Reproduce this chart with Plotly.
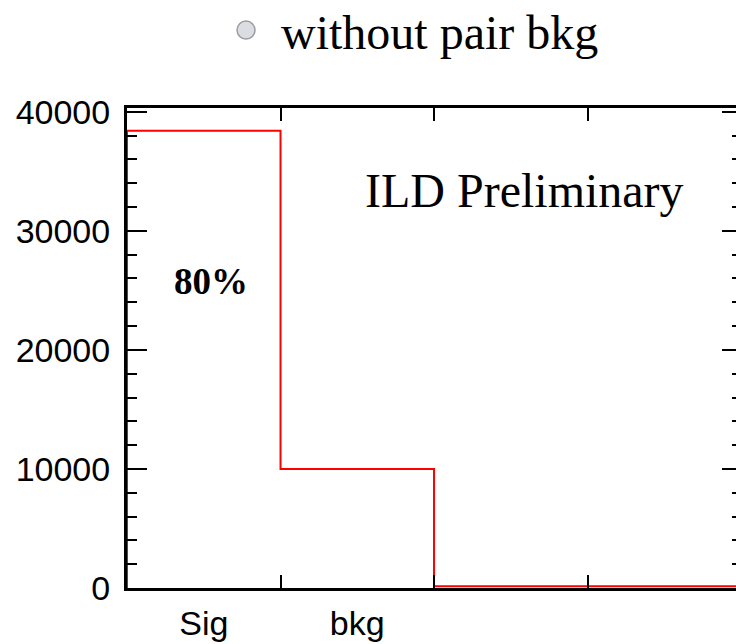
import plotly.graph_objects as go

# Data
categories = ["Sig", "bkg"]
bin_edges = [0, 1, 2, 3, 4]
bin_values = [38400, 10000, 150, 150]
y_tick_vals = [0, 10000, 20000, 30000, 40000]
y_tick_text = ["0", "10000", "20000", "30000", "40000"]

title_text = "without pair bkg"
label_text = "ILD Preliminary"
frac_text = "<b>80%</b>"

# step histogram path
xs = [bin_edges[0]]
ys = [0]
for i, v in enumerate(bin_values):
    xs += [bin_edges[i], bin_edges[i + 1]]
    ys += [v, v]

fig = go.Figure()
fig.add_trace(go.Scatter(x=xs, y=ys, mode="lines",
                         line=dict(color="#ff0000", width=2),
                         hoverinfo="skip", showlegend=False))
fig.add_trace(go.Scatter(x=[0.5, 1.5], y=[0, 0], xaxis="x2", yaxis="y",
                         mode="markers", marker=dict(opacity=0),
                         hoverinfo="skip", showlegend=False))
fig.add_trace(go.Scatter(x=[0, 0], y=[0, 0], xaxis="x", yaxis="y2",
                         mode="markers", marker=dict(opacity=0),
                         hoverinfo="skip", showlegend=False))

tickfont = dict(family="Liberation Sans, Arial, sans-serif", size=34, color="black")

fig.update_layout(
    width=736, height=644,
    margin=dict(l=127, r=0, t=108, b=56),
    plot_bgcolor="white", paper_bgcolor="white",
    xaxis=dict(range=[0, 3.967], tickvals=bin_edges, showticklabels=False,
               ticks="inside", ticklen=13, tickwidth=2, tickcolor="black",
               showline=True, linecolor="black", linewidth=3, mirror="ticks",
               showgrid=False, zeroline=False, fixedrange=True),
    xaxis2=dict(range=[0, 3.967], overlaying="x", side="bottom",
                tickvals=[0.5, 1.5], ticktext=categories, ticks="",
                tickfont=dict(family="Liberation Sans, Arial, sans-serif", size=34, color="black"),
                ticklabelstandoff=12,
                showline=False, showgrid=False, zeroline=False),
    yaxis=dict(range=[0, 40320], tickvals=y_tick_vals, ticktext=y_tick_text,
               ticks="inside", ticklen=20, tickwidth=2, tickcolor="black",
               minor=dict(dtick=2000, ticks="inside", ticklen=10, tickwidth=2, tickcolor="black"),
               tickfont=tickfont, ticklabelstandoff=7,
               showline=True, linecolor="black", linewidth=3,
               showgrid=False, zeroline=False),
    yaxis2=dict(range=[0, 40320], overlaying="y", side="right", matches="y",
                tickvals=y_tick_vals, showticklabels=False,
                ticks="inside", ticklen=14, tickwidth=2, tickcolor="black",
                minor=dict(dtick=2000, ticks="inside", ticklen=4, tickwidth=2, tickcolor="black"),
                showline=False, showgrid=False, zeroline=False),
)

fig.add_annotation(text=title_text, xref="paper", yref="paper",
                   x=(279 - 127) / 609, y=1 + (108 - 32) / 480.6,
                   xanchor="left", yanchor="middle", showarrow=False,
                   font=dict(family="Liberation Serif, Times New Roman, serif", size=48, color="black"))
fig.add_shape(type="circle", xref="paper", yref="paper",
              x0=(237 - 127) / 609, x1=(255 - 127) / 609,
              y0=1 + (108 - 39) / 480.6, y1=1 + (108 - 21) / 480.6,
              fillcolor="#dcdde2", line=dict(color="#9a9ca6", width=1.5))
fig.add_annotation(text=label_text, xref="paper", yref="paper",
                   x=(363 - 127) / 609, y=(588.3 - 190) / 480.6,
                   xanchor="left", yanchor="middle", showarrow=False,
                   font=dict(family="Liberation Serif, Times New Roman, serif", size=48, color="black"))
fig.add_annotation(text=frac_text, xref="paper", yref="paper",
                   x=(172 - 127) / 609, y=(588.3 - 281) / 480.6,
                   xanchor="left", yanchor="middle", showarrow=False,
                   font=dict(family="Liberation Serif, Times New Roman, serif", size=37, color="black"))

fig.write_html("out.html")
